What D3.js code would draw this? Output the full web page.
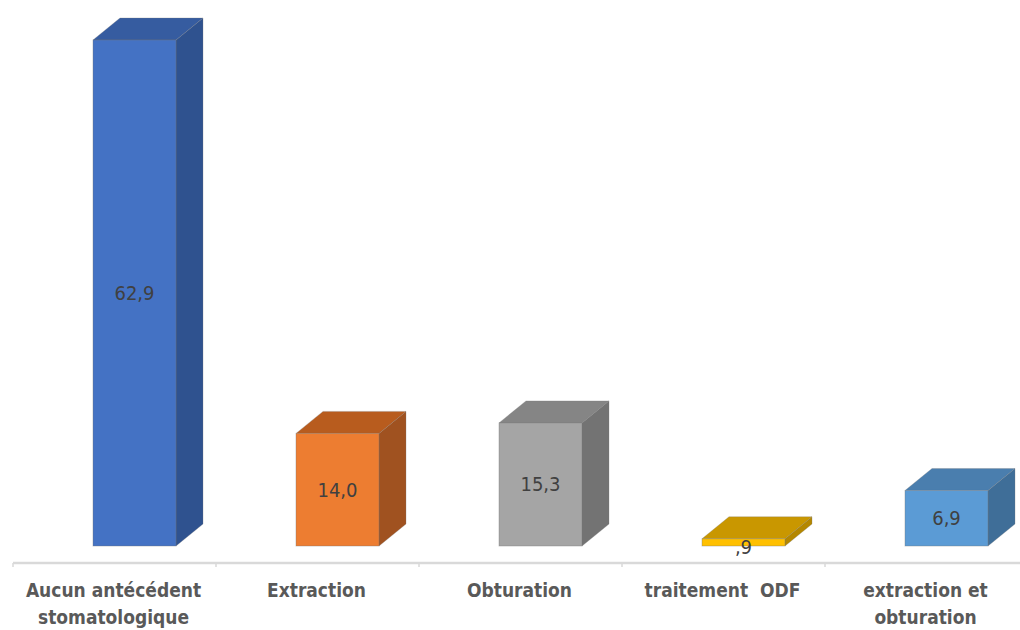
<!DOCTYPE html>
<html><head><meta charset="utf-8">
<script src="https://cdn.jsdelivr.net/npm/d3@7"></script>
<style>body{margin:0;background:#fff}</style>
</head><body>
<svg id="c" width="1020" height="630"></svg>
<script>
const categories = [["Aucun antécédent","stomatologique"],["Extraction"],["Obturation"],["traitement  ODF"],["extraction et","obturation"]];
const values = [62.9, 14.0, 15.3, 0.9, 6.9];
const valueLabels = ["62,9","14,0","15,3",",9","6,9"];
const fronts = ["#4472C4","#ED7D31","#A5A5A5","#FFC000","#5B9BD5"];
const sides  = ["#2F528F","#A05220","#737373","#B48700","#3F6E98"];
const tops   = ["#365CA0","#B85C1E","#858585","#C99700","#4A7EAE"];

const svg = d3.select("#c");
const keys = categories.map((c,i)=>i);
const x = d3.scaleBand().domain(keys).range([13, 1028]).padding(0);
const y = d3.scaleLinear().domain([0, 62.9]).range([546, 40]);
const dx = 27, dy = -22, bw = 83, off = -21.5;

// axis
const axisG = svg.append("g").attr("transform","translate(0,563)");
axisG.append("line").attr("x1",13).attr("x2",1020).attr("stroke","#d9d9d9").attr("stroke-width",2.5);
axisG.selectAll("line.t").data(d3.range(0,6)).join("line").attr("class","t")
  .attr("x1",d=>13+d*x.bandwidth()).attr("x2",d=>13+d*x.bandwidth())
  .attr("y1",0).attr("y2",4).attr("stroke","#d9d9d9").attr("stroke-width",1.5);

const g = svg.selectAll("g.bar").data(values).join("g").attr("class","bar");
g.each(function(v,i){
  const s = d3.select(this);
  const cx = x(i) + x.bandwidth()/2;
  const x0 = cx + off, x1 = x0 + bw;
  const yt = y(v), yb = y(0);
  s.append("path").attr("d",`M${x1},${yb}L${x1+dx},${yb+dy}L${x1+dx},${yt+dy}L${x1},${yt}Z`)
    .attr("fill",sides[i]).attr("stroke","rgba(120,120,120,0.35)").attr("stroke-width",0.8);
  s.append("path").attr("d",`M${x0},${yt}L${x0+dx},${yt+dy}L${x1+dx},${yt+dy}L${x1},${yt}Z`)
    .attr("fill",tops[i]).attr("stroke","rgba(120,120,120,0.35)").attr("stroke-width",0.8);
  s.append("rect").attr("x",x0).attr("y",yt).attr("width",bw).attr("height",yb-yt)
    .attr("fill",fronts[i]).attr("stroke","rgba(120,120,120,0.45)").attr("stroke-width",0.8);
  const ly = (yb-yt) < 20 ? yb + 1 : (yt+yb)/2;
  s.append("text").attr("x",cx+off+bw/2).attr("y",ly).attr("dy","0.35em")
    .attr("text-anchor","middle").attr("font-family","DejaVu Sans Condensed, DejaVu Sans").attr("font-size",20)
    .attr("fill","#404040").text(valueLabels[i]);
});

svg.selectAll("text.cat").data(categories).join("text").attr("class","cat")
  .attr("x",(d,i)=>x(i)+x.bandwidth()/2 - 1)
  .attr("y",597)
  .attr("text-anchor","middle").attr("font-family","DejaVu Sans Condensed, DejaVu Sans")
  .attr("font-weight","bold").attr("font-size",19).attr("fill","#595959")
  .each(function(d){
    const t = d3.select(this);
    d.forEach((line,j)=>t.append("tspan").attr("x",t.attr("x")).attr("dy", j===0?0:27).attr("xml:space","preserve").text(line));
  });
</script>
</body></html>
